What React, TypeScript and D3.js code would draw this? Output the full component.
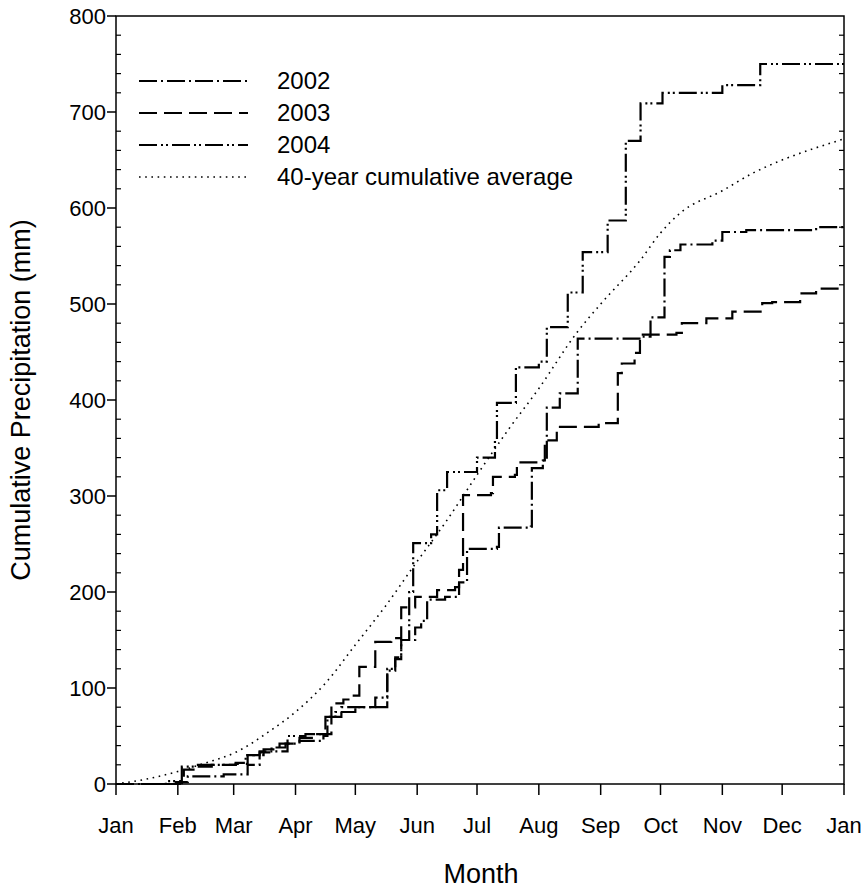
import React, { useEffect, useRef } from "react";
import * as d3 from "d3";

// ---- data (day of year, cumulative mm) ----
const monthLabels = ["Jan", "Feb", "Mar", "Apr", "May", "Jun", "Jul", "Aug", "Sep", "Oct", "Nov", "Dec", "Jan"];
const monthDays = [0, 31, 59, 90, 120, 151, 181, 212, 243, 273, 304, 334, 365];
const yTicks = [0, 100, 200, 300, 400, 500, 600, 700, 800];

const series2002: [number, number][] = [
  [0, 0], [30, 2], [36, 8], [54, 10], [66, 20], [72, 33], [78, 38], [85, 42], [92, 45], [104, 50],
  [106, 70], [113, 80], [127, 80], [136, 118], [140, 132], [143, 150], [150, 163], [153, 170],
  [156, 192], [165, 195], [172, 210], [176, 245], [191, 247], [192, 267], [208, 268], [208.5, 329],
  [214, 337], [216, 392], [222.5, 407], [231, 407], [231.5, 464], [264, 466], [268, 486], [275, 549],
  [277.7, 556], [283, 562], [299, 566], [304, 575], [316, 577], [349, 578], [351, 580], [365, 581],
];

const series2003: [number, number][] = [
  [0, 0], [32, 1], [34, 15], [40, 20], [60, 21], [66, 30], [74, 36], [82, 42], [92, 48], [100, 52],
  [108, 84], [114, 88], [118, 92], [122, 122], [130, 148], [138, 152], [143, 184], [150, 195],
  [161, 202], [170, 205], [172, 223], [174, 301], [188, 303], [189, 320], [200, 322], [201, 335],
  [213, 337], [215, 358], [221, 372], [242, 376], [251.6, 428], [253.6, 438], [260, 449],
  [262.7, 468], [281, 470], [283.7, 480], [296, 485], [309, 492], [324, 501], [329, 502],
  [343, 511], [351, 516], [365, 516],
];

const series2004: [number, number][] = [
  [0, 0], [25, 3], [33, 18], [48, 20], [60, 22], [65, 30], [72, 34], [86, 50], [95, 52], [105, 70],
  [110, 75], [120, 80], [130, 90], [136, 120], [140, 130], [143, 150], [147, 200], [149, 251],
  [158, 260], [161, 306], [166, 325], [181, 340], [190, 358], [191, 397], [200.5, 434], [212, 440],
  [216, 476], [226.5, 512], [234, 554], [246.5, 587], [255.6, 670], [263, 709], [274, 720],
  [304, 728], [323, 750], [365, 754],
];

const average40: [number, number][] = [
  [0, 0], [15, 5], [31, 13], [45, 22], [60, 33], [77, 55], [90, 75], [105, 105], [120, 145],
  [135, 185], [151, 232], [165, 272], [182, 325], [197, 370], [212, 412], [231, 470], [243, 500],
  [263, 546], [273, 574], [283, 595], [304, 618], [319, 636], [334, 650], [350, 662], [365, 672],
];

const legendLabels = ["2002", "2003", "2004", "40-year cumulative average"];

const W = 861;
const H = 889;
const M = { left: 116, right: 844, top: 16, bottom: 784 };
const FONT = "'Liberation Sans', Arial, sans-serif";

export default function App() {
  const ref = useRef<SVGSVGElement | null>(null);

  useEffect(() => {
    const svg = d3.select(ref.current);
    svg.selectAll("*").remove();

    const x = d3.scaleLinear().domain([0, 365]).range([M.left, M.right]);
    const y = d3.scaleLinear().domain([0, 800]).range([M.bottom, M.top]);

    const g = svg.append("g");

    // frame
    g.append("rect")
      .attr("x", M.left).attr("y", M.top)
      .attr("width", M.right - M.left).attr("height", M.bottom - M.top)
      .attr("fill", "none").attr("stroke", "#000").attr("stroke-width", 1.5);

    // y minor ticks (inward, both sides)
    const minor = d3.range(0, 801, 20).filter((v) => v % 100 !== 0);
    minor.forEach((v) => {
      g.append("line").attr("x1", M.left).attr("x2", M.left + 5).attr("y1", y(v)).attr("y2", y(v))
        .attr("stroke", "#000").attr("stroke-width", 1.2);
      g.append("line").attr("x1", M.right).attr("x2", M.right - 5).attr("y1", y(v)).attr("y2", y(v))
        .attr("stroke", "#000").attr("stroke-width", 1.2);
    });
    // y major ticks (outward on left)
    yTicks.forEach((v) => {
      g.append("line").attr("x1", M.left - 9).attr("x2", M.left).attr("y1", y(v)).attr("y2", y(v))
        .attr("stroke", "#000").attr("stroke-width", 1.5);
      g.append("text").attr("x", M.left - 10).attr("y", y(v)).attr("dy", "0.35em")
        .attr("text-anchor", "end").attr("font-family", FONT).attr("font-size", 22)
        .text(String(v));
    });
    // x ticks
    monthDays.forEach((d, i) => {
      g.append("line").attr("x1", x(d)).attr("x2", x(d)).attr("y1", M.bottom).attr("y2", M.bottom + 11)
        .attr("stroke", "#000").attr("stroke-width", 1.5);
      g.append("text").attr("x", x(d)).attr("y", 833)
        .attr("text-anchor", "middle").attr("font-family", FONT).attr("font-size", 22)
        .text(monthLabels[i]);
    });

    // axis titles
    g.append("text").attr("x", (M.left + M.right) / 2 + 1).attr("y", 883)
      .attr("text-anchor", "middle").attr("font-family", FONT).attr("font-size", 27).text("Month");
    g.append("text").attr("transform", `translate(30, ${(M.top + M.bottom) / 2}) rotate(-90)`)
      .attr("text-anchor", "middle").attr("font-family", FONT).attr("font-size", 27)
      .text("Cumulative Precipitation (mm)");

    const step = d3.line<[number, number]>().x((d) => x(d[0])).y((d) => y(d[1])).curve(d3.curveStepAfter);
    const smooth = d3.line<[number, number]>().x((d) => x(d[0])).y((d) => y(d[1])).curve(d3.curveMonotoneX);

    const styles = [
      { dash: "18,4,2,4", w: 2.2 },
      { dash: "18,7", w: 2.2 },
      { dash: "18,4,2,3,2,4", w: 2.2 },
      { dash: "1.6,4.6", w: 1.6 },
    ];
    const data = [series2002, series2003, series2004];

    g.append("path").attr("d", smooth(average40) as string).attr("fill", "none")
      .attr("stroke", "#000").attr("stroke-width", styles[3].w).attr("stroke-dasharray", styles[3].dash);
    data.forEach((s, i) => {
      g.append("path").attr("d", step(s) as string).attr("fill", "none")
        .attr("stroke", "#000").attr("stroke-width", styles[i].w)
        .attr("stroke-dasharray", styles[i].dash);
    });

    // legend
    legendLabels.forEach((lab, i) => {
      const ly = 81 + i * 32;
      g.append("line").attr("x1", 139).attr("x2", 248).attr("y1", ly).attr("y2", ly)
        .attr("stroke", "#000").attr("stroke-width", styles[i].w).attr("stroke-dasharray", styles[i].dash);
      g.append("text").attr("x", 277).attr("y", ly).attr("dy", "0.35em")
        .attr("font-family", FONT).attr("font-size", 24).text(lab);
    });
  }, []);

  return (
    <svg ref={ref} width={W} height={H}
      style={{ position: "absolute", left: 0, top: 0, background: "#fff" }} />
  );
}
